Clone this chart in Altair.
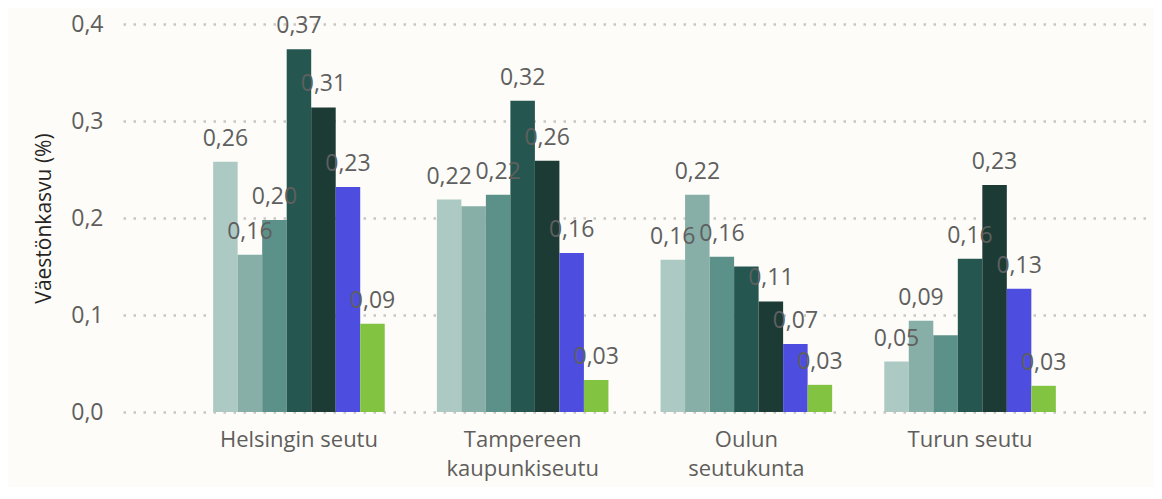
import altair as alt
import pandas as pd

regions = ["Helsingin seutu", "Tampereen kaupunkiseutu", "Oulun seutukunta", "Turun seutu"]
series = ["Sarja 1", "Sarja 2", "Sarja 3", "Sarja 4", "Sarja 5", "Sarja 6", "Sarja 7"]
colors = ["#ADC9C4", "#87AEA7", "#5C9189", "#255750", "#1C3B35", "#4D4EDF", "#82C341"]

helsinki = [0.258, 0.162, 0.198, 0.374, 0.314, 0.232, 0.091]
tampere = [0.219, 0.212, 0.224, 0.321, 0.259, 0.164, 0.033]
oulu = [0.157, 0.224, 0.160, 0.150, 0.114, 0.070, 0.028]
turku = [0.052, 0.094, 0.079, 0.158, 0.234, 0.127, 0.027]

# which data labels are visible in the original (overlapping ones are hidden)
show_helsinki = [1, 1, 1, 1, 1, 1, 1]
show_tampere = [1, 0, 1, 1, 1, 1, 1]
show_oulu = [1, 1, 1, 0, 1, 1, 1]
show_turku = [1, 1, 0, 1, 1, 1, 1]

rows = []
for reg, vals, shows in zip(regions, [helsinki, tampere, oulu, turku],
                            [show_helsinki, show_tampere, show_oulu, show_turku]):
    for s, v, sh in zip(series, vals, shows):
        rows.append({"alue": reg, "sarja": s, "arvo": v, "nayta": sh})
df = pd.DataFrame(rows)

font = "Open Sans"

x_enc = alt.X("alue:N", sort=regions, title=None,
              scale=alt.Scale(paddingInner=0.233, paddingOuter=0.403),
              axis=alt.Axis(labelAngle=0, domain=False, ticks=False, grid=False,
                            labelPadding=17, labelFontSize=22, labelColor="#605E5C",
                            labelFont=font, labelLineHeight=29, labelLimit=400,
                            labelExpr="indexof(datum.label, 'kaupunki') >= 0 || indexof(datum.label, 'kunta') >= 0 ? split(datum.label, ' ') : datum.label"))
xo_enc = alt.XOffset("sarja:N", sort=series, scale=alt.Scale(paddingInner=0, paddingOuter=0))
y_enc = alt.Y("arvo:Q", title="Väestönkasvu (%)",
              scale=alt.Scale(domain=[0, 0.4], nice=False, zero=True),
              axis=alt.Axis(values=[0, 0.1, 0.2, 0.3, 0.4], domain=False, ticks=False,
                            labelExpr="replace(format(datum.value, '.1f'), '.', ',')",
                            labelFontSize=23, labelColor="#605E5C", labelFont=font,
                            labelPadding=20, titleFontSize=21, titleFont=font,
                            titleColor="#252423", titleFontWeight="normal",
                            titlePadding=16, grid=True, gridColor="#C8C6C4",
                            gridDash=[2.5, 7.5], gridWidth=2.5))

bars = alt.Chart(df).mark_bar(size=24.5).encode(
    x=x_enc, xOffset=xo_enc, y=y_enc,
    color=alt.Color("sarja:N", sort=series,
                    scale=alt.Scale(domain=series, range=colors), legend=None),
)

labels = alt.Chart(df).transform_filter("datum.nayta == 1").transform_calculate(
    teksti="replace(format(datum.arvo, '.2f'), '.', ',')"
).mark_text(align="center", baseline="alphabetic", dy=-16, fontSize=23,
            font=font, color="#5F5F5F").encode(
    x=x_enc, xOffset=xo_enc, y=y_enc, text="teksti:N"
)

chart = alt.layer(bars, labels).properties(
    width=1023, height=388, background="#FDFCF8",
    padding={"left": 115, "top": 16, "right": 8, "bottom": 75},
    autosize=alt.AutoSizeParams(type="none"),
).configure_view(stroke=None)

chart.save("out.html", embed_options={"renderer": "svg", "actions": False})
